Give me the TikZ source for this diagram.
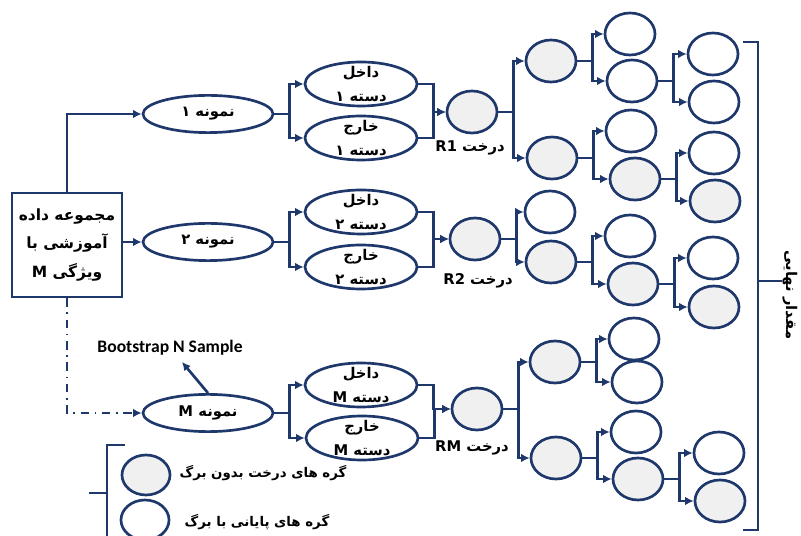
\documentclass[tikz,border=0pt]{standalone}
\usepackage{fontspec}
\setmainfont{Carlito}
\newfontfamily\arabicfont[Script=Arabic]{DejaVu Sans}
\TeXXeTstate=1
\usetikzlibrary{shapes.geometric,arrows.meta}
\definecolor{navy}{RGB}{31,56,108}
\definecolor{nodegray}{RGB}{240,240,240}
\newcommand{\fatext}[1]{\beginR #1\endR}

\begin{document}
\begin{tikzpicture}[x=0.025cm,y=-0.025cm,line width=1.9pt,color=navy,
        >={Latex[length=6pt,width=6pt]},
        fa/.style={text=black,font=\arabicfont\bfseries\fontsize{10.5}{17}\selectfont},
        data box/.style={draw,rectangle,minimum width=2.75cm,minimum height=2.6cm,align=center,fa,
            font=\arabicfont\bfseries\fontsize{11}{20}\selectfont},
        sample node/.style={draw,ellipse,minimum width=3.25cm,minimum height=0.93cm,inner sep=0pt,fa},
        subset node/.style={draw,ellipse,minimum width=2.8cm,minimum height=1.1cm,inner sep=0pt},
        inner node/.style={draw,ellipse,fill=nodegray,minimum width=1.25cm,minimum height=1.05cm,inner sep=0pt},
        leaf node/.style={draw,ellipse,fill=white,minimum width=1.25cm,minimum height=1.05cm,inner sep=0pt},
        elbow/.style={->,to path={(\tikztostart.east) -- ++(15,0) |- (\tikztotarget.west)}}]

    \useasboundingbox (0,0) rectangle (801,536);

    \node[data box] (box) at (67,245) {\fatext{مجموعه داده}\\ \fatext{آموزشی با}\\ \fatext{ویژگی M}};

    % tree 1
    \node[sample node] (s1) at (208,114) {\fatext{نمونه ۱}};
    \node[subset node,label={[fa,align=center]center:\beginR داخل\endR\\ \beginR دسته ۱\endR}] (in1) at (361,84) {};
    \node[subset node,label={[fa,align=center]center:\beginR خارج\endR\\ \beginR دسته ۱\endR}] (out1) at (361,138) {};
    \node[inner node] (r1) at (472,112) {};
    \node[fa] (r1l) at (470,148) {\fatext{درخت \beginL R1\endL}};
    \node[inner node] (t1a) at (551,61) {};
    \node[inner node] (t1b) at (552,158) {};
    \node[leaf node] (t1aa) at (630,34) {};
    \node[leaf node] (t1ab) at (632,81) {};
    \node[leaf node] (t1aba) at (713,54) {};
    \node[leaf node] (t1abb) at (714,102) {};
    \node[leaf node] (t1ba) at (631,131) {};
    \node[inner node] (t1bb) at (635,179) {};
    \node[leaf node] (t1bba) at (714,153) {};
    \node[inner node] (t1bbb) at (715,201) {};

    % tree 2
    \node[sample node] (s2) at (208,242) {\fatext{نمونه ۲}};
    \node[subset node,label={[fa,align=center]center:\beginR داخل\endR\\ \beginR دسته ۲\endR}] (in2) at (361,212) {};
    \node[subset node,label={[fa,align=center]center:\beginR خارج\endR\\ \beginR دسته ۲\endR}] (out2) at (361,267) {};
    \node[inner node] (r2) at (475,239) {};
    \node[fa] (r2l) at (478,281) {\fatext{درخت \beginL R2\endL}};
    \node[leaf node] (t2a) at (550,212) {};
    \node[inner node] (t2b) at (551,262) {};
    \node[leaf node] (t2ba) at (630,236) {};
    \node[inner node] (t2bb) at (633,284) {};
    \node[leaf node] (t2bba) at (713,258) {};
    \node[inner node] (t2bbb) at (714,307) {};

    % tree M
    \node[sample node] (sM) at (208,413) {\fatext{نمونه M}};
    \node[subset node,label={[fa,align=center]center:\beginR داخل\endR\\ \beginR دسته M\endR}] (inM) at (361,385) {};
    \node[subset node,label={[fa,align=center]center:\beginR خارج\endR\\ \beginR دسته M\endR}] (outM) at (362,438) {};
    \node[inner node] (rM) at (477,409) {};
    \node[fa] (rMl) at (472,448) {\fatext{درخت \beginL RM\endL}};
    \node[inner node] (tMa) at (555,362) {};
    \node[inner node] (tMb) at (556,458) {};
    \node[leaf node] (tMaa) at (634,339) {};
    \node[leaf node] (tMab) at (637,382) {};
    \node[leaf node] (tMba) at (636,432) {};
    \node[inner node] (tMbb) at (638,479) {};
    \node[leaf node] (tMbba) at (719,453) {};
    \node[inner node] (tMbbb) at (720,501) {};

    \node[font=\bfseries\fontsize{12.5}{14}\selectfont,text=black] (boot) at (170,348) {Bootstrap N Sample};
    \coordinate (bootTip) at (182,362);

    % legend
    \node[inner node,minimum width=1.2cm,minimum height=1cm] (lg1) at (146,475) {};
    \node[leaf node,minimum width=1.2cm,minimum height=1cm] (lg2) at (145,520) {};
    \node[fa,font=\arabicfont\bfseries\fontsize{9.5}{12}\selectfont] (lg1t) at (263,473) {\fatext{گره های درخت بدون برگ}};
    \node[fa,font=\arabicfont\bfseries\fontsize{9.5}{12}\selectfont] (lg2t) at (257,522) {\fatext{گره های پایانی با برگ}};

    \node[fa,rotate=-90] (final) at (790,295) {\fatext{مقدار نهایی}};

    \draw[->] (box.north) |- (s1.west);
    \draw[->] (box.east |- s2.west) -- (s2.west);
    \draw[->,dash pattern=on 6pt off 4pt on 1.2pt off 4pt] (box.south) |- (sM.west);
    \draw[->] (sM.north) -- (bootTip);

    \path
        (s1) edge[elbow] (in1) edge[elbow] (out1)
        (in1) edge[elbow] (r1) (out1) edge[elbow] (r1)
        (r1) edge[elbow] (t1a) edge[elbow] (t1b)
        (t1a) edge[elbow] (t1aa) edge[elbow] (t1ab)
        (t1ab) edge[elbow] (t1aba) edge[elbow] (t1abb)
        (t1b) edge[elbow] (t1ba) edge[elbow] (t1bb)
        (t1bb) edge[elbow] (t1bba) edge[elbow] (t1bbb);
    \path
        (s2) edge[elbow] (in2) edge[elbow] (out2)
        (in2) edge[elbow] (r2) (out2) edge[elbow] (r2)
        (r2) edge[elbow] (t2a) edge[elbow] (t2b)
        (t2b) edge[elbow] (t2ba) edge[elbow] (t2bb)
        (t2bb) edge[elbow] (t2bba) edge[elbow] (t2bbb);
    \path
        (sM) edge[elbow] (inM) edge[elbow] (outM)
        (inM) edge[elbow] (rM) (outM) edge[elbow] (rM)
        (rM) edge[elbow] (tMa) edge[elbow] (tMb)
        (tMa) edge[elbow] (tMaa) edge[elbow] (tMab)
        (tMb) edge[elbow] (tMba) edge[elbow] (tMbb)
        (tMbb) edge[elbow] (tMbba) edge[elbow] (tMbbb);

    % brackets
    \draw (743,42) -- (758,42) -- (758,530) -- (743,530);
    \draw (758,281) -- (782,281);
    \draw (125,445) -- (107,445) -- (107,545);
    \draw (89,493) -- (107,493);
\end{tikzpicture}
\end{document}
